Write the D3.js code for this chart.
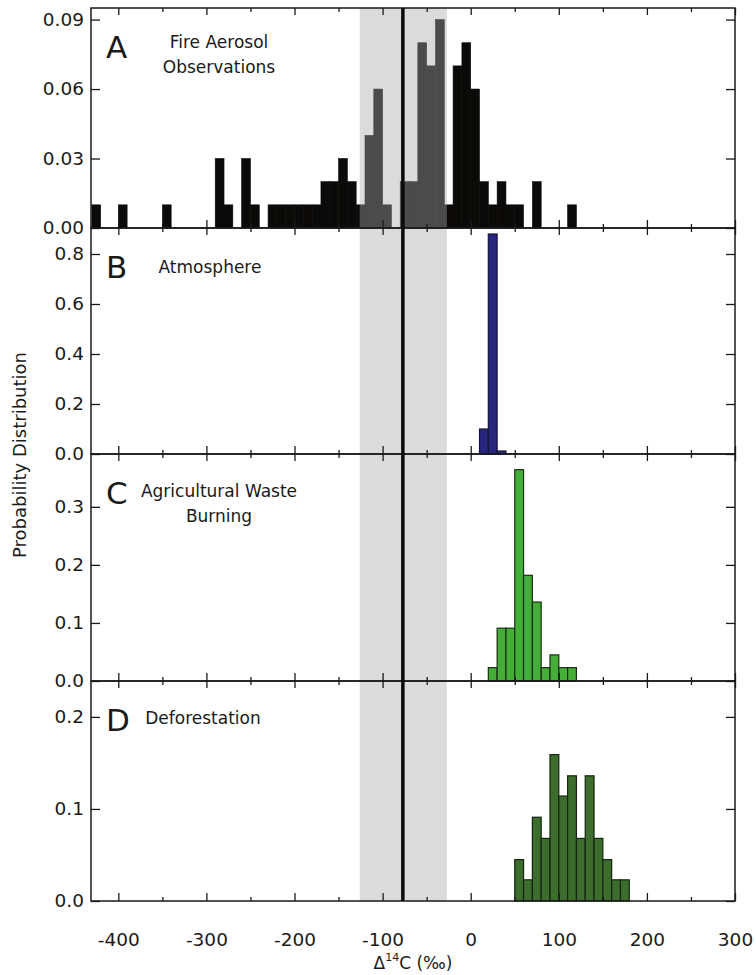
<!DOCTYPE html>
<html><head><meta charset="utf-8">
<script src="https://cdn.jsdelivr.net/npm/d3@7"></script>
<style>
body{margin:0;background:#fff}
svg{display:block}
text{font-family:"DejaVu Sans",sans-serif;fill:#1a1a1a}
</style></head>
<body><svg id="c" width="756" height="975"></svg>
<script>
// ---- data ----
const binWidth = 10;
const xTicks = [-400,-300,-200,-100,0,100,200,300];
const xMinorTicks = [-350,-250,-150,-50,50,150,250];

const fireBins   = [-430,-400,-350,-290,-280,-260,-250,-230,-220,-210,-200,-190,-180,-170,-160,-150,-140,-130,-120,-110,-100,-80,-70,-60,-50,-40,-30,-20,-10,0,10,20,30,40,50,70,110];
const fireValues = [0.01,0.01,0.01,0.03,0.01,0.03,0.01,0.01,0.01,0.01,0.01,0.01,0.01,0.02,0.02,0.03,0.02,0.01,0.04,0.06,0.01,0.02,0.02,0.08,0.07,0.09,0.01,0.07,0.08,0.06,0.02,0.01,0.02,0.01,0.01,0.02,0.01];

const atmBins   = [10,20,30];
const atmValues = [0.10,0.88,0.012];

const agBins   = [20,30,40,50,60,70,80,90,100,110];
const agValues = [0.023,0.091,0.091,0.364,0.182,0.136,0.023,0.045,0.023,0.023];

const defBins   = [50,60,70,80,90,100,110,120,130,140,150,160,170];
const defValues = [0.045,0.023,0.091,0.068,0.159,0.114,0.136,0.068,0.136,0.068,0.045,0.023,0.023];

const fireTicks = [0,0.03,0.06,0.09];
const atmTicks  = [0,0.2,0.4,0.6,0.8];
const agTicks   = [0,0.1,0.2,0.3];
const defTicks  = [0,0.1,0.2];

const bandRange = [-126,-27];
const meanValue = -77;

// ---- layout ----
const left = 91, right = 735;
const panels = [
  {top:8,   bottom:228, ymax:0.095, bins:fireBins, vals:fireValues, ticks:fireTicks, fmt:d3.format(".2f"), fill:"#0c0a08", stroke:"#0c0a08", sw:0.6, letter:"A", lines:["Fire Aerosol","Observations"], lx:219, ly:48},
  {top:228, bottom:454, ymax:0.904, bins:atmBins,  vals:atmValues,  ticks:atmTicks,  fmt:d3.format(".1f"), fill:"#26267e", stroke:"#15153a", sw:1.2, letter:"B", lines:["Atmosphere"], lx:210, ly:273},
  {top:454, bottom:681, ymax:0.391, bins:agBins,   vals:agValues,   ticks:agTicks,   fmt:d3.format(".1f"), fill:"#45ae38", stroke:"#17300f", sw:1.2, letter:"C", lines:["Agricultural Waste","Burning"], lx:219, ly:497},
  {top:681, bottom:901, ymax:0.239, bins:defBins,  vals:defValues,  ticks:defTicks,  fmt:d3.format(".1f"), fill:"#3c6d2c", stroke:"#14240e", sw:1.2, letter:"D", lines:["Deforestation"], lx:203, ly:724}
];

const svg = d3.select("#c");
const x = d3.scaleLinear().domain([-431,300]).range([left,right]);

const barsG = svg.append("g");
const overlayG = svg.append("g");
const axesG = svg.append("g");

panels.forEach((p,i)=>{
  const y = d3.scaleLinear().domain([0,p.ymax]).range([p.bottom,p.top]);
  const data = p.bins.map((b,j)=>({b, v:p.vals[j]}));
  barsG.append("g").selectAll("rect").data(data).join("rect")
    .attr("x", d=>x(Math.max(d.b,-431)))
    .attr("width", d=>x(d.b+binWidth)-x(Math.max(d.b,-431)))
    .attr("y", d=>y(d.v))
    .attr("height", d=>y(0)-y(d.v))
    .attr("fill", p.fill)
    .attr("stroke", p.stroke)
    .attr("stroke-width", p.sw);

  const g = axesG.append("g");
  g.append("rect").attr("x",left).attr("y",p.top).attr("width",right-left).attr("height",p.bottom-p.top)
    .attr("fill","none").attr("stroke","#1a1a1a").attr("stroke-width",1.5);
  g.append("g").attr("transform",`translate(0,${p.bottom})`)
    .call(d3.axisBottom(x).tickValues(xTicks).tickSize(-8).tickFormat(i===3?(d=>String(d)):"").tickPadding(32));
  g.append("g").attr("transform",`translate(0,${p.bottom})`)
    .call(d3.axisBottom(x).tickValues(xMinorTicks).tickSize(-4).tickFormat(""));
  g.append("g").attr("transform",`translate(0,${p.top})`)
    .call(d3.axisTop(x).tickValues(xTicks).tickSize(-7).tickFormat(""));
  g.append("g").attr("transform",`translate(0,${p.top})`)
    .call(d3.axisTop(x).tickValues(xMinorTicks).tickSize(-4).tickFormat(""));
  g.append("g").attr("transform",`translate(${left},0)`)
    .call(d3.axisLeft(y).tickValues(p.ticks).tickSize(-9).tickPadding(7).tickFormat(p.fmt));
  g.append("g").attr("transform",`translate(${right},0)`)
    .call(d3.axisRight(y).tickValues(p.ticks).tickSize(-9).tickFormat(""));
  g.append("text").attr("x",106).attr("y",p.top+50).attr("font-size",31).text(p.letter);
  p.lines.forEach((t,k)=>{
    g.append("text").attr("x",p.lx).attr("y",p.ly+k*25).attr("text-anchor","middle").attr("font-size",17).text(t);
  });
});

axesG.selectAll(".domain").remove();
axesG.selectAll(".tick line").attr("stroke","#1a1a1a").attr("stroke-width",1.3);
axesG.selectAll(".tick text").attr("font-size",18.5).attr("fill","#1a1a1a").attr("font-family","DejaVu Sans");

overlayG.append("rect")
  .attr("x",x(bandRange[0])).attr("width",x(bandRange[1])-x(bandRange[0]))
  .attr("y",panels[0].top).attr("height",panels[3].bottom-panels[0].top)
  .attr("fill","rgb(168,168,172)").attr("fill-opacity",0.41);

svg.append("line").attr("x1",x(meanValue)).attr("x2",x(meanValue))
  .attr("y1",panels[0].top).attr("y2",panels[3].bottom)
  .attr("stroke","#0a0a0a").attr("stroke-width",3.5);

svg.append("text").attr("transform","translate(26,455) rotate(-90)")
  .attr("text-anchor","middle").attr("font-size",18).text("Probability Distribution");
const xt = svg.append("text").attr("x",413).attr("y",969).attr("text-anchor","middle").attr("font-size",17);
xt.append("tspan").text("Δ");
xt.append("tspan").attr("font-size",11).attr("dy",-8).text("14");
xt.append("tspan").attr("dy",8).text("C (‰)");
</script></body></html>
